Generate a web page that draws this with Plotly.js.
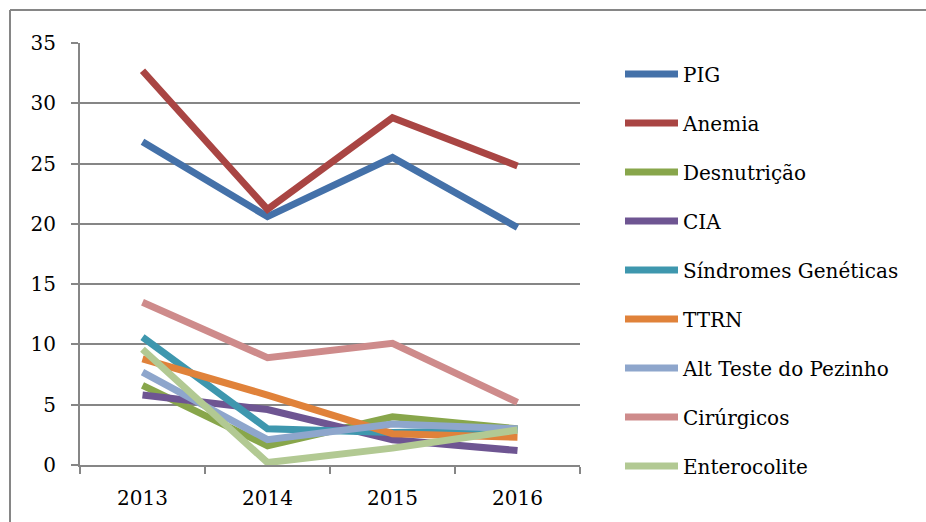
<!DOCTYPE html>
<html>
<head>
<meta charset="utf-8">
<script src="https://cdn.plot.ly/plotly-3.0.1.min.js"></script>
<style>body{margin:0;background:#fff;overflow:hidden}</style>
</head>
<body>
<div id="chart" style="width:926px;height:522px"></div>
<script>
// anos
var years = ['2013', '2014', '2015', '2016'];

// series
var pig = [26.8, 20.6, 25.5, 19.7];
var anemia = [32.7, 21.2, 28.8, 24.8];
var desnutricao = [6.6, 1.6, 4.0, 3.0];
var cia = [5.8, 4.6, 2.1, 1.2];
var sindromes = [10.6, 3.0, 2.7, 2.9];
var ttrn = [8.8, 5.8, 2.6, 2.3];
var altTeste = [7.7, 2.1, 3.4, 3.0];
var cirurgicos = [13.5, 8.9, 10.1, 5.2];
var enterocolite = [9.6, 0.2, 1.4, 2.9];

var names = ['PIG', 'Anemia', 'Desnutrição', 'CIA', 'Síndromes Genéticas', 'TTRN',
  'Alt Teste do Pezinho', 'Cirúrgicos', 'Enterocolite'];
var values = [pig, anemia, desnutricao, cia, sindromes, ttrn, altTeste, cirurgicos, enterocolite];
var colors = ['#4471a9', '#a94543', '#88a64b', '#6e5592', '#3e97ae', '#e0823a',
  '#8ea6cc', '#ce8b8b', '#b2c993'];

var data = names.map(function (n, i) {
  return {
    x: years,
    y: values[i],
    name: n,
    legendgroup: n,
    type: 'scatter',
    mode: 'lines',
    line: {color: colors[i], width: 7}
  };
});

var font = {family: 'DejaVu Serif', size: 20, color: '#000'};

var layout = {
  width: 926,
  height: 522,
  margin: {l: 80, r: 346, t: 43, b: 57},
  paper_bgcolor: '#fff',
  plot_bgcolor: '#fff',
  font: font,
  showlegend: true,
  legend: {
    x: 1.08, xanchor: 'left',
    y: 0.973, yanchor: 'top',
    font: font,
    tracegroupgap: 20,
    itemwidth: 53,
    bgcolor: 'rgba(0,0,0,0)'
  },
  xaxis: {
    type: 'category',
    range: [-0.5, 3.5],
    showgrid: false,
    showline: true,
    linecolor: '#868686',
    linewidth: 2,
    ticks: 'outside',
    tickson: 'boundaries',
    ticklen: 7,
    tickwidth: 2,
    tickcolor: '#868686',
    tickfont: font,
    ticklabelstandoff: 14,
    zeroline: false
  },
  yaxis: {
    range: [0, 35],
    dtick: 5,
    showgrid: true,
    gridcolor: '#868686',
    gridwidth: 2,
    showline: true,
    linecolor: '#868686',
    linewidth: 2,
    ticks: 'outside',
    ticklen: 7,
    tickwidth: 2,
    tickcolor: '#868686',
    tickfont: font,
    ticklabelstandoff: 11,
    zeroline: false
  },
  // borda do grafico (so esquerda e topo aparecem)
  shapes: [
    {type: 'line', xref: 'paper', yref: 'paper', x0: -0.14, x1: -0.14, y0: -0.2, y1: 1.078,
      line: {color: '#868686', width: 2}},
    {type: 'line', xref: 'paper', yref: 'paper', x0: -0.14, x1: 1.72, y0: 1.078, y1: 1.078,
      line: {color: '#868686', width: 2}}
  ]
};

Plotly.newPlot('chart', data, layout, {displayModeBar: false, staticPlot: true});
</script>
</body>
</html>
